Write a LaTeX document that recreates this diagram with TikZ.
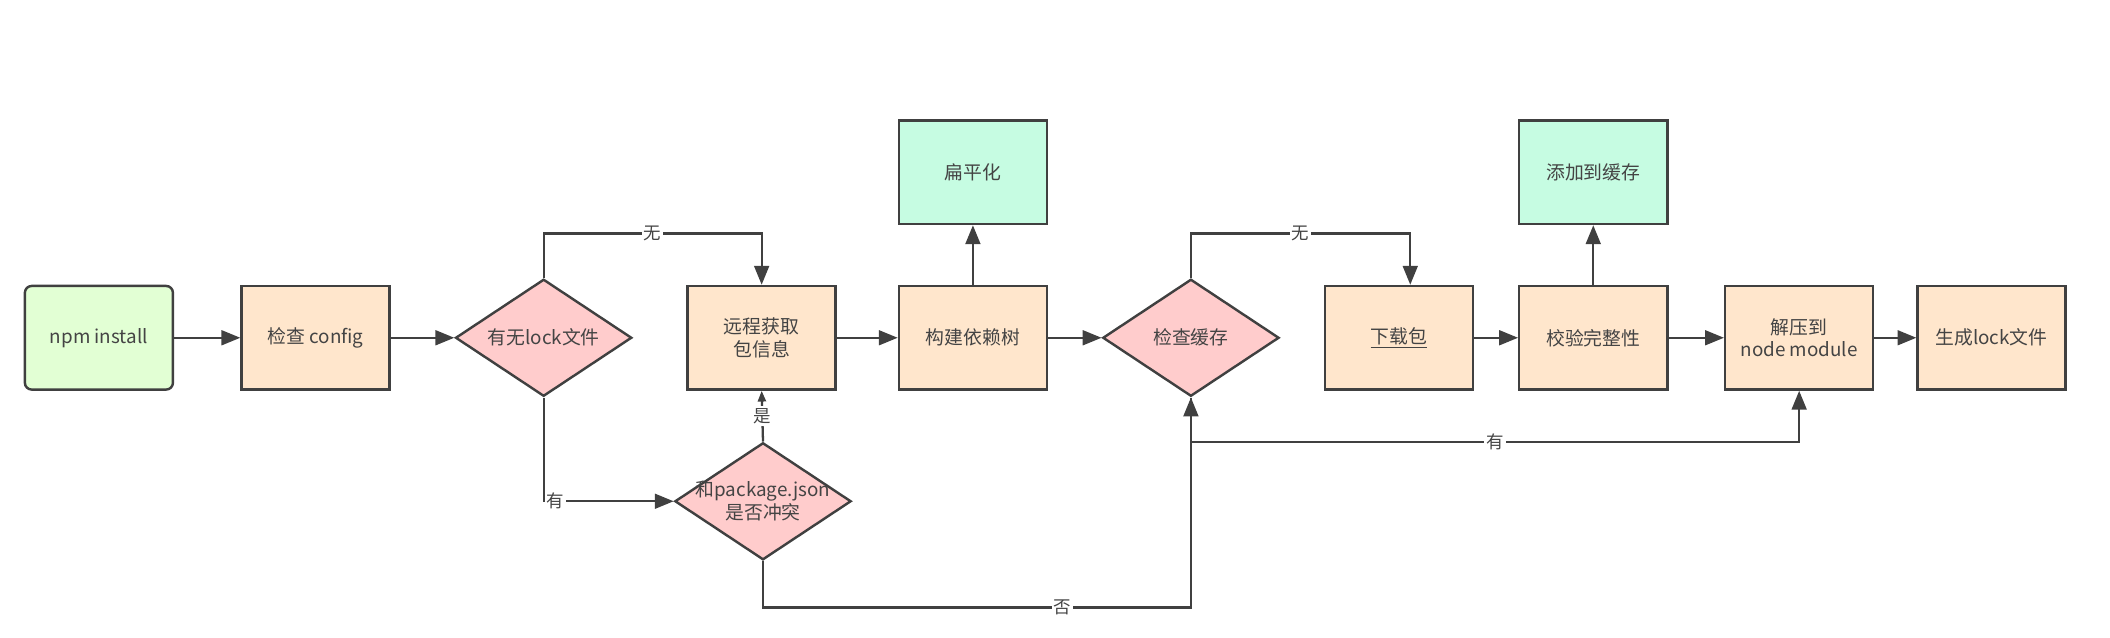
\documentclass[tikz,border=0pt]{standalone}
\usepackage{fontspec}
\setmainfont{Noto Sans CJK SC}
\usetikzlibrary{shapes.geometric,arrows.meta}
\definecolor{edge}{HTML}{404040}
\definecolor{txt}{HTML}{444444}
\definecolor{fgreen}{HTML}{E2FFD4}
\definecolor{forange}{HTML}{FFE6CC}
\definecolor{fpink}{HTML}{FFCCCC}
\definecolor{fteal}{HTML}{C6FCE2}
\begin{document}
\begin{tikzpicture}[x=1pt,y=-1pt,
  box/.style={draw=edge, line width=1.8pt, minimum width=110pt, minimum height=77pt,
    inner sep=0pt, font=\fontsize{14}{16.5}\selectfont, text=txt, align=center},
  proc/.style={box, fill=forange},
  startbox/.style={box, fill=fgreen, rounded corners=5pt},
  leaf/.style={box, fill=fteal},
  dia/.style={diamond, draw=edge, line width=1.8pt, fill=fpink,
    minimum width=131pt, minimum height=87pt, inner sep=0pt},
  diatext/.style={font=\fontsize{14}{17}\selectfont, text=txt, align=center, inner sep=0pt},
  conn/.style={draw=edge, line width=1.7pt, -{Triangle[length=14pt,width=11pt]}},
  smallconn/.style={draw=edge, line width=1.7pt, -{Triangle[length=8pt,width=6pt]}},
  elabel/.style={fill=white, font=\fontsize{13}{14}\selectfont, text=txt, inner sep=1.5pt},
]
\useasboundingbox (0,0) rectangle (1568,474);

\node[startbox] (npm) at (73.5,251) {npm install};
\node[proc] (cfg) at (234.5,251) {检查 config};
\node[dia] (lock) at (404,251) {};
\node[diatext] (lockt) at (lock.center) {有无lock文件};
\node[proc] (remote) at (566,251) {远程获取\\包信息};
\node[dia] (conf) at (567,372.5) {};
\node[diatext] (conft) at (conf.center) {和package.json\\是否冲突};
\node[leaf] (flat) at (723,128) {扁平化};
\node[proc] (tree) at (723,251) {构建依赖树};
\node[dia] (cache) at (885,251) {};
\node[diatext] (cachet) at (cache.center) {检查缓存};
\node[proc] (dl) at (1039.5,251) {\underline{下载包}};
\node[leaf] (addc) at (1184,128) {添加到缓存};
\node[proc] (verify) at (1184,251) {校验完整性};
\node[proc] (unzip) at (1337,251) {解压到\\node module};
\node[proc] (genlock) at (1480,251) {生成lock文件};

\draw[conn] (npm) -- (cfg);
\draw[conn] (cfg) -- (lock);
\draw[conn] (lock.north) -- ++(0,-33) -| (remote.north) node[elabel,pos=0.25] {无};
\draw[conn] (lock.south) |- (conf.west) node[elabel,pos=0.5,anchor=west] {有};
\draw[smallconn] (conf.north) -- (remote.south) node[elabel,midway] {是};
\draw[conn] (conf.south) -- ++(0,34.5) -| (cache.south) node[elabel,pos=0.35] {否};
\draw[conn] (remote) -- (tree);
\draw[conn] (tree) -- (flat);
\draw[conn] (tree) -- (cache);
\draw[conn] (cache.north) -- ++(0,-33) -| ([xshift=8.5pt]dl.north) node[elabel,pos=0.25] {无};
\draw[conn] (cache.south) -- ++(0,33) -| (unzip.south) node[elabel,pos=0.25] {有};
\draw[conn] (dl) -- (verify);
\draw[conn] (verify) -- (addc);
\draw[conn] (verify) -- (unzip);
\draw[conn] (unzip) -- (genlock);
\end{tikzpicture}
\end{document}
